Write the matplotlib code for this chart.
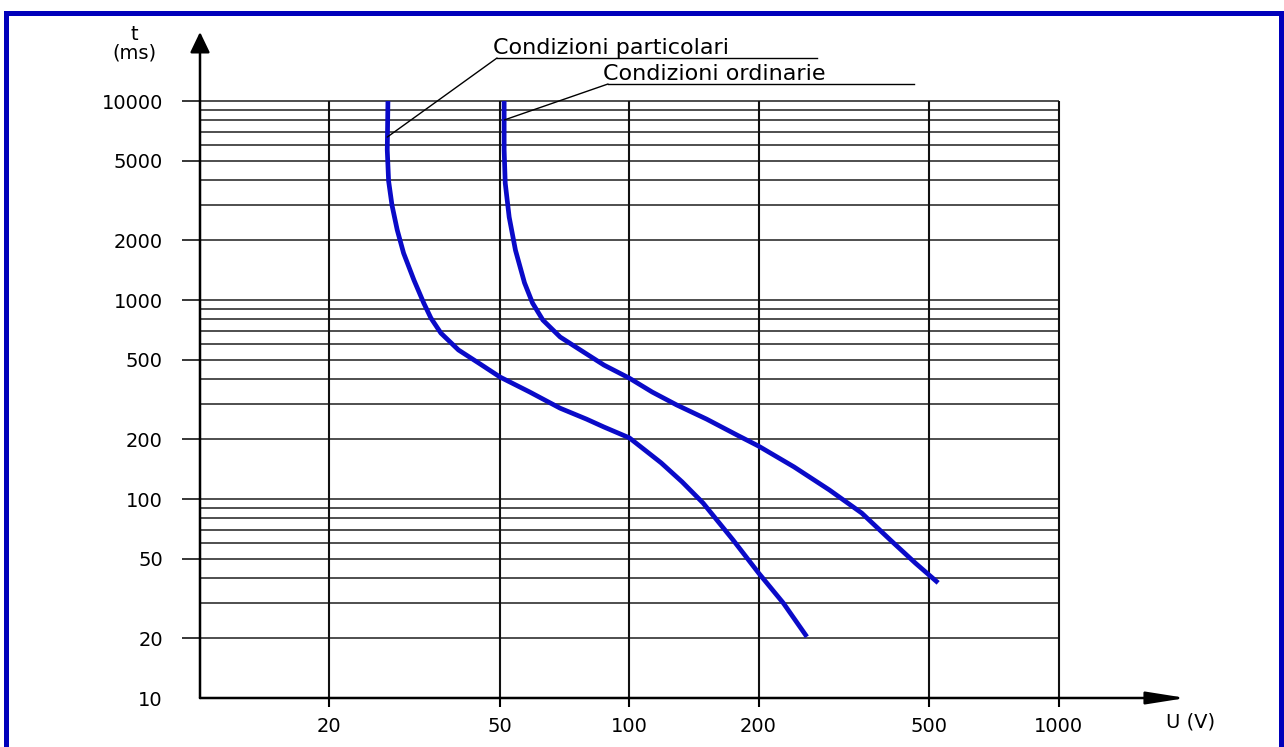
import matplotlib
matplotlib.use("Agg")
import matplotlib.pyplot as plt
from matplotlib.lines import Line2D
from matplotlib.ticker import FixedLocator, NullLocator

# ---------------- data ----------------
x_ticks = [20, 50, 100, 200, 500, 1000]
x_labels = ["20", "50", "100", "200", "500", "1000"]
y_ticks = [10, 20, 50, 100, 200, 500, 1000, 2000, 5000, 10000]
y_labels = ["10", "20", "50", "100", "200", "500", "1000", "2000", "5000", "10000"]
grid_t = [20, 30, 40, 50, 60, 70, 80, 90,
          100, 200, 300, 400, 500, 600, 700, 800, 900,
          1000, 2000, 3000, 4000, 5000, 6000, 7000, 8000, 9000, 10000]

# Condizioni particolari
part_U = [27.4, 27.3, 27.5, 28.0, 28.8, 29.8, 31.5, 33.2, 34.5, 36.4, 40.0, 44.6,
          50.0, 58.6, 69.0, 79.5, 87.3, 100, 118.6, 132.7, 148.5, 174.5, 200, 228.4, 259.2]
part_t = [10000, 5680, 3960, 3000, 2250, 1720, 1260, 966, 812, 682, 561, 482,
          410, 345, 286, 252, 230, 203, 152, 122, 95.5, 62.2, 42.5, 30, 20.3]

# Condizioni ordinarie
ord_U = [51.1, 51.1, 51.4, 52.5, 54.3, 57.0, 59.5, 62.9, 69.0, 76.9, 87.3, 100,
         113, 128.9, 151.4, 177.9, 200, 241.9, 292.5, 347.8, 406.3, 464, 524]
ord_t = [10000, 5680, 3870, 2610, 1780, 1220, 966, 793, 652, 561, 471, 405,
         345, 297, 252, 210, 184.5, 145, 111, 85, 62, 47.6, 37.9]

label_part = "Condizioni particolari"
label_ord = "Condizioni ordinarie"
leader_part = (27.3, 6590)
leader_ord = (51.2, 8040)

# ---------------- figure ----------------
plt.rcParams['font.family'] = ['DejaVu Sans']
W, H = 1284, 747
fig = plt.figure(figsize=(W / 100, H / 100), dpi=100)
fig.patch.set_facecolor('white')

ax = fig.add_axes([200 / W, 49 / H, 986 / W, 666 / H])
ax.set_xscale('log')
ax.set_yscale('log')
ax.set_xlim(10, 1980)
ax.set_ylim(10, 22230)
for s in ax.spines.values():
    s.set_visible(False)
ax.patch.set_alpha(0)

# grid
ax.hlines(grid_t, 10, 1000, colors='#1e1e1e', lw=1.1, zorder=1)
ax.vlines(x_ticks, 10, 10000, colors='#111111', lw=1.5, zorder=1)

# curves
ax.plot(part_U, part_t, color='#0a0ac8', lw=3.4, solid_capstyle='butt',
        solid_joinstyle='round', zorder=3)
ax.plot(ord_U, ord_t, color='#0a0ac8', lw=3.4, solid_capstyle='butt',
        solid_joinstyle='round', zorder=3)

# axes arrows
ax.annotate('', xy=(1, 0), xytext=(0, 0), xycoords='axes fraction',
            arrowprops=dict(arrowstyle='-|>,head_length=24,head_width=3.8',
                            mutation_scale=1, lw=1.8, color='black',
                            shrinkA=0, shrinkB=0), zorder=4)
ax.annotate('', xy=(0, 1), xytext=(0, 0), xycoords='axes fraction',
            arrowprops=dict(arrowstyle='-|>,head_length=12.5,head_width=6',
                            mutation_scale=1, lw=1.8, color='black',
                            shrinkA=0, shrinkB=0), zorder=4)

# ticks
ax.xaxis.set_major_locator(FixedLocator(x_ticks))
ax.xaxis.set_minor_locator(NullLocator())
ax.set_xticklabels(x_labels)
ax.yaxis.set_major_locator(FixedLocator(y_ticks))
ax.yaxis.set_minor_locator(NullLocator())
ax.set_yticklabels(y_labels)
ax.tick_params(axis='x', length=6.5, width=1.5, pad=7, labelsize=14, colors='black')
ax.tick_params(axis='y', length=13, width=1.1, pad=13.7, labelsize=14, colors='black')
ax.yaxis.get_major_ticks()[0].tick1line.set_visible(False)

# axis titles
fig.text(134 / W, 1 - 44 / H, 't\n(ms)', ha='center', va='center', fontsize=14,
         linespacing=0.95)
fig.text(1191 / W, 1 - 722 / H, 'U (V)', ha='center', va='center', fontsize=14)

# annotations with leader lines and underline
def note(label, xy, corner_px, end_px, text_x_px):
    ax.annotate('', xy=xy, xycoords='data',
                xytext=(corner_px[0], H - corner_px[1]), textcoords='figure pixels',
                arrowprops=dict(arrowstyle='-', lw=1.0, color='black',
                                shrinkA=0, shrinkB=0))
    fig.add_artist(Line2D([corner_px[0] / W, end_px / W],
                          [1 - corner_px[1] / H, 1 - corner_px[1] / H],
                          color='black', lw=1.0, transform=fig.transFigure))
    fig.text(text_x_px / W, 1 - (corner_px[1] - 4) / H, label, ha='left',
             va='baseline', fontsize=16)

note(label_part, leader_part, (497, 58), 817, 493)
note(label_ord, leader_ord, (608, 84), 914, 603)

# blue frame
fig.add_artist(Line2D([6 / W, 6 / W, 1281 / W, 1281 / W],
                      [0, 1 - 13 / H, 1 - 13 / H, 0],
                      color='#0000bb', lw=3.6, transform=fig.transFigure,
                      solid_joinstyle='miter'))

fig.savefig('out.png', dpi=100, facecolor='white')
